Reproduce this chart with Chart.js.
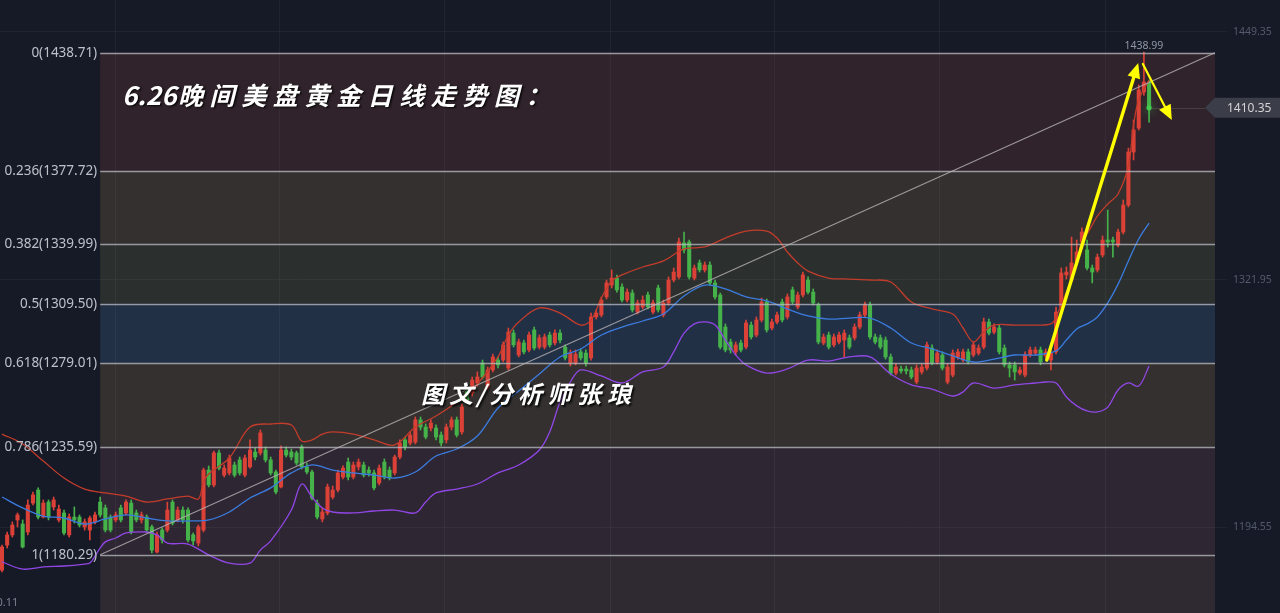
<!DOCTYPE html>
<html>
<head>
<meta charset="utf-8">
<script src="https://cdn.jsdelivr.net/npm/chart.js@4.4.1/dist/chart.umd.min.js"></script>
<style>
  html, body { margin: 0; padding: 0; background: #161a27; overflow: hidden; }
  canvas { display: block; }
</style>
</head>
<body>
<canvas id="chart" width="1280" height="613"></canvas>
<script>
// Daily candles (index 0 = leftmost)
const opens = [
  1172.4, 1185.3, 1190.5, 1198.2, 1196.1, 1192.0, 1206.9, 1213.6, 1199.7, 1207.4,
  1204.9, 1198.2, 1201.8, 1190.5, 1199.7, 1199.7, 1194.6, 1193.0, 1197.2, 1207.4,
  1204.4, 1199.7, 1198.2, 1204.4, 1201.8, 1206.9, 1201.8, 1198.2, 1199.7, 1194.6,
  1181.7, 1193.0, 1193.0, 1207.4, 1198.2, 1203.3, 1203.3, 1190.5, 1186.3, 1193.0,
  1223.9, 1216.2, 1232.7, 1221.3, 1222.4, 1226.5, 1229.1, 1221.3, 1225.5, 1233.2,
  1232.7, 1234.2, 1229.1, 1222.9, 1215.2, 1234.2, 1233.2, 1232.7, 1235.8, 1225.5,
  1222.9, 1206.9, 1198.7, 1201.8, 1210.0, 1213.6, 1220.3, 1228.0, 1220.3, 1225.5,
  1226.5, 1223.9, 1222.4, 1217.2, 1228.0, 1223.9, 1222.4, 1230.6, 1239.4, 1237.8,
  1238.3, 1249.7, 1246.0, 1245.5, 1245.5, 1241.9, 1239.4, 1246.0, 1249.7, 1243.5,
  1265.1, 1263.5, 1268.7, 1279.0, 1266.6, 1275.4, 1280.5, 1280.5, 1276.4, 1294.4,
  1283.1, 1289.3, 1285.7, 1296.0, 1287.2, 1287.2, 1293.4, 1289.3, 1294.4, 1287.2,
  1279.0, 1279.0, 1284.7, 1284.1, 1281.6, 1302.7, 1303.7, 1313.0, 1319.1, 1322.7,
  1318.1, 1311.4, 1315.0, 1305.2, 1307.8, 1314.0, 1305.2, 1317.6, 1303.7, 1309.9,
  1321.7, 1323.3, 1340.8, 1341.3, 1322.7, 1330.5, 1326.9, 1329.4, 1320.2, 1314.0,
  1297.5, 1289.8, 1284.7, 1289.3, 1287.2, 1298.5, 1293.4, 1301.1, 1310.4, 1297.0,
  1300.1, 1310.4, 1302.7, 1316.6, 1307.8, 1314.0, 1321.7, 1315.5, 1308.8, 1289.3,
  1293.4, 1288.3, 1289.8, 1290.8, 1291.9, 1291.9, 1297.5, 1303.7, 1308.8, 1292.4,
  1291.9, 1290.8, 1282.1, 1273.8, 1275.9, 1275.9, 1275.4, 1269.2, 1274.4, 1276.4,
  1286.7, 1279.5, 1283.1, 1269.2, 1272.8, 1282.1, 1280.5, 1284.7, 1283.1, 1284.1,
  1287.2, 1300.1, 1294.9, 1297.0, 1286.7, 1278.0, 1278.0, 1273.8, 1272.8, 1283.1,
  1284.1, 1285.7, 1282.6, 1280.5, 1284.7, 1307.8, 1324.3, 1321.7, 1331.0, 1341.3,
  1337.2, 1327.9, 1326.9, 1334.6, 1342.3, 1342.3, 1339.7, 1346.4, 1360.3, 1387.6,
  1399.9, 1418.5, 1423.6
];
const closes = [
  1184.3, 1190.5, 1195.6, 1200.8, 1184.3, 1205.9, 1211.1, 1199.7, 1206.9, 1199.7,
  1208.5, 1203.8, 1191.5, 1199.7, 1198.2, 1195.6, 1197.2, 1199.2, 1200.8, 1200.8,
  1193.0, 1193.0, 1200.8, 1198.2, 1207.4, 1192.0, 1198.2, 1200.8, 1193.0, 1182.7,
  1190.5, 1187.9, 1203.3, 1196.6, 1203.3, 1198.2, 1187.9, 1187.4, 1194.6, 1223.9,
  1216.2, 1232.7, 1224.9, 1224.9, 1230.1, 1221.3, 1222.4, 1230.1, 1234.2, 1230.6,
  1243.0, 1229.1, 1222.4, 1212.6, 1234.2, 1231.6, 1230.6, 1227.5, 1225.5, 1222.9,
  1209.5, 1199.7, 1202.3, 1215.2, 1213.6, 1222.4, 1224.9, 1220.3, 1226.5, 1228.0,
  1221.3, 1222.4, 1214.7, 1224.9, 1220.3, 1219.8, 1230.6, 1237.8, 1235.8, 1241.9,
  1249.7, 1246.0, 1240.9, 1248.1, 1240.9, 1237.8, 1246.0, 1249.7, 1241.9, 1256.3,
  1259.9, 1270.2, 1271.8, 1271.8, 1275.4, 1282.1, 1278.0, 1288.3, 1294.9, 1288.3,
  1289.8, 1284.7, 1293.4, 1286.7, 1291.9, 1292.4, 1288.3, 1294.4, 1290.8, 1281.6,
  1284.1, 1283.6, 1281.6, 1279.0, 1302.7, 1304.7, 1311.4, 1320.2, 1322.7, 1316.6,
  1311.4, 1315.5, 1306.3, 1309.9, 1311.4, 1307.8, 1309.9, 1306.3, 1309.9, 1321.7,
  1325.8, 1341.3, 1337.2, 1323.3, 1327.9, 1326.9, 1329.4, 1320.2, 1313.0, 1287.2,
  1285.7, 1285.7, 1288.3, 1285.7, 1299.6, 1292.4, 1301.1, 1310.4, 1296.0, 1300.1,
  1303.7, 1301.1, 1313.0, 1310.4, 1314.0, 1324.3, 1315.5, 1309.9, 1289.8, 1292.4,
  1287.2, 1292.4, 1293.4, 1294.4, 1287.2, 1297.5, 1303.7, 1308.8, 1292.4, 1289.8,
  1287.2, 1282.1, 1273.8, 1276.9, 1274.9, 1274.9, 1271.8, 1276.4, 1276.9, 1288.3,
  1279.0, 1284.1, 1276.4, 1276.9, 1284.1, 1284.7, 1284.7, 1279.5, 1288.3, 1286.7,
  1300.1, 1294.4, 1297.5, 1284.7, 1278.0, 1276.4, 1274.4, 1275.4, 1283.1, 1285.7,
  1285.7, 1279.5, 1284.7, 1284.1, 1305.2, 1325.3, 1325.8, 1330.5, 1336.1, 1346.4,
  1327.9, 1325.8, 1333.5, 1342.3, 1341.3, 1341.3, 1346.4, 1360.3, 1387.6, 1398.9,
  1419.5, 1423.6, 1410.35
];
const highs = [
  1185.3, 1192.0, 1197.2, 1201.8, 1198.2, 1208.5, 1212.6, 1214.7, 1208.5, 1208.5,
  1210.0, 1205.9, 1203.3, 1201.3, 1204.9, 1200.8, 1198.7, 1200.2, 1202.3, 1210.0,
  1205.9, 1200.8, 1202.3, 1205.9, 1208.5, 1208.5, 1203.3, 1202.3, 1200.8, 1195.6,
  1192.0, 1194.1, 1207.4, 1208.5, 1204.9, 1204.9, 1204.4, 1191.5, 1195.6, 1224.9,
  1226.0, 1233.7, 1234.2, 1226.5, 1231.6, 1228.0, 1230.6, 1231.6, 1239.4, 1235.2,
  1244.5, 1235.8, 1230.6, 1223.9, 1236.3, 1235.8, 1234.7, 1233.7, 1236.8, 1227.5,
  1223.9, 1208.5, 1204.4, 1216.7, 1215.7, 1223.9, 1226.0, 1230.1, 1228.0, 1229.6,
  1228.0, 1225.5, 1223.9, 1226.5, 1229.6, 1225.5, 1231.6, 1239.4, 1240.9, 1243.5,
  1251.2, 1251.2, 1247.6, 1249.7, 1247.1, 1243.5, 1247.6, 1251.2, 1251.2, 1257.9,
  1266.6, 1271.8, 1274.4, 1280.5, 1276.9, 1283.6, 1282.1, 1289.8, 1297.0, 1296.0,
  1291.3, 1290.8, 1294.9, 1297.5, 1293.4, 1293.9, 1294.9, 1296.0, 1296.0, 1288.3,
  1285.7, 1285.7, 1286.2, 1285.7, 1304.7, 1306.3, 1313.0, 1321.7, 1326.9, 1324.3,
  1319.7, 1317.1, 1316.6, 1311.4, 1313.5, 1315.5, 1311.4, 1319.1, 1311.4, 1323.3,
  1327.9, 1343.3, 1346.4, 1342.3, 1329.4, 1332.0, 1331.0, 1331.0, 1321.7, 1315.0,
  1299.1, 1291.3, 1289.8, 1290.8, 1301.1, 1300.1, 1302.7, 1312.4, 1311.9, 1301.6,
  1305.2, 1311.9, 1314.5, 1318.1, 1315.5, 1325.8, 1323.3, 1317.1, 1309.9, 1293.9,
  1294.9, 1293.9, 1294.9, 1296.0, 1293.4, 1299.1, 1305.2, 1310.4, 1310.4, 1293.9,
  1293.4, 1292.4, 1283.6, 1278.5, 1277.4, 1277.4, 1276.9, 1278.0, 1278.5, 1289.8,
  1288.3, 1285.7, 1284.7, 1278.5, 1285.7, 1286.2, 1286.2, 1286.2, 1289.8, 1288.3,
  1302.1, 1301.6, 1299.1, 1298.5, 1288.3, 1279.5, 1279.5, 1276.9, 1284.7, 1287.2,
  1287.2, 1287.2, 1286.2, 1285.7, 1307.8, 1327.9, 1328.4, 1343.8, 1342.3, 1348.5,
  1342.3, 1329.4, 1335.1, 1344.4, 1357.7, 1343.8, 1347.9, 1362.9, 1389.6, 1404.1,
  1422.1, 1438.99, 1424.6
];
const lows = [
  1171.4, 1183.8, 1189.4, 1194.6, 1183.8, 1190.5, 1205.9, 1198.7, 1199.2, 1198.2,
  1203.3, 1197.2, 1190.5, 1189.4, 1196.6, 1194.6, 1193.0, 1187.9, 1196.1, 1199.7,
  1192.0, 1192.0, 1197.2, 1197.2, 1200.8, 1191.0, 1197.2, 1196.6, 1192.0, 1181.2,
  1181.2, 1186.3, 1192.0, 1195.6, 1197.2, 1196.6, 1186.9, 1185.3, 1184.8, 1192.0,
  1215.2, 1215.2, 1223.9, 1220.3, 1221.3, 1220.3, 1221.3, 1220.3, 1224.9, 1229.1,
  1231.6, 1228.0, 1221.3, 1211.6, 1214.7, 1230.6, 1229.1, 1226.5, 1224.4, 1221.9,
  1208.5, 1198.7, 1197.2, 1200.8, 1209.0, 1212.6, 1219.3, 1218.8, 1219.3, 1223.9,
  1220.3, 1220.8, 1213.6, 1216.2, 1219.3, 1218.8, 1221.3, 1229.6, 1234.2, 1236.8,
  1237.3, 1244.5, 1239.9, 1244.0, 1239.4, 1236.3, 1237.8, 1244.5, 1240.9, 1242.4,
  1258.4, 1262.0, 1267.1, 1270.8, 1265.6, 1274.4, 1276.4, 1279.5, 1275.4, 1287.2,
  1282.1, 1283.6, 1284.7, 1285.7, 1286.2, 1286.2, 1287.2, 1288.3, 1289.3, 1280.5,
  1277.4, 1278.0, 1280.5, 1277.4, 1280.5, 1301.6, 1302.7, 1311.9, 1317.6, 1315.5,
  1310.4, 1310.4, 1305.2, 1304.2, 1306.8, 1306.8, 1304.2, 1305.2, 1302.7, 1308.8,
  1320.7, 1322.2, 1335.6, 1322.2, 1321.7, 1325.8, 1325.8, 1319.1, 1311.9, 1286.2,
  1284.7, 1284.1, 1283.1, 1284.7, 1286.2, 1291.3, 1292.4, 1300.1, 1294.9, 1296.0,
  1299.1, 1300.1, 1301.6, 1309.4, 1306.8, 1313.0, 1314.5, 1308.8, 1288.8, 1288.3,
  1286.2, 1287.2, 1288.8, 1282.1, 1286.2, 1290.8, 1296.5, 1302.7, 1291.3, 1288.8,
  1286.2, 1281.0, 1272.8, 1272.8, 1273.8, 1273.3, 1270.8, 1268.2, 1273.3, 1275.4,
  1278.0, 1278.5, 1275.4, 1268.2, 1271.8, 1281.0, 1279.5, 1278.5, 1282.1, 1283.1,
  1286.2, 1293.4, 1293.9, 1283.6, 1276.9, 1271.8, 1270.2, 1272.8, 1271.8, 1282.1,
  1283.1, 1278.0, 1281.6, 1275.4, 1283.6, 1306.8, 1322.2, 1320.7, 1329.9, 1340.2,
  1326.9, 1320.2, 1325.8, 1333.5, 1338.7, 1333.5, 1338.7, 1345.4, 1359.3, 1383.5,
  1398.9, 1416.9, 1403.0
];

// Bollinger bands, [candle index, price]
const upperBand = [[0,1242.4],[4,1237.3],[8,1228.5],[12,1219.8],[16,1214.1],[20,1212.1],[24,1210.5],[28,1207.4],[32,1209.0],[36,1210.5],[38,1209.0],[39,1217.7],[40,1221.9],[44,1230.1],[48,1246.0],[52,1247.6],[56,1247.1],[58,1238.8],[60,1239.4],[62,1242.4],[64,1243.5],[68,1242.4],[72,1239.4],[76,1236.8],[80,1246.0],[84,1251.7],[88,1258.9],[92,1268.2],[96,1282.1],[98,1293.4],[100,1300.1],[104,1307.3],[108,1304.7],[112,1298.5],[114,1301.1],[116,1312.4],[118,1321.2],[120,1324.3],[124,1328.4],[128,1331.5],[132,1337.7],[136,1338.7],[140,1343.3],[144,1346.9],[148,1346.9],[150,1343.3],[152,1336.1],[154,1330.5],[156,1326.3],[160,1322.7],[164,1322.2],[168,1321.7],[172,1320.7],[176,1310.4],[180,1306.8],[184,1304.2],[186,1297.0],[188,1289.8],[190,1294.9],[192,1298.5],[196,1298.5],[200,1298.5],[203,1299.1],[204,1302.7],[206,1315.5],[208,1330.5],[209,1342.3],[210,1345.4],[212,1354.6],[214,1360.8],[216,1366.0],[218,1380.4],[219,1401.5],[220,1414.4],[222,1424.6]];
const midBand = [[0,1210.0],[4,1204.4],[8,1200.2],[12,1199.2],[16,1196.1],[20,1198.7],[24,1200.8],[28,1199.2],[32,1197.7],[36,1197.7],[40,1198.2],[44,1202.3],[48,1209.5],[52,1214.7],[56,1222.4],[60,1226.5],[64,1223.9],[68,1222.4],[72,1221.3],[76,1219.8],[80,1222.9],[84,1231.1],[88,1234.7],[92,1241.4],[96,1255.8],[100,1264.6],[104,1273.3],[108,1282.1],[112,1286.2],[116,1293.4],[120,1297.5],[124,1300.6],[128,1304.2],[132,1313.5],[136,1319.1],[140,1317.1],[144,1313.0],[148,1310.9],[152,1306.8],[156,1303.2],[160,1301.6],[164,1302.1],[168,1302.1],[172,1297.0],[176,1289.3],[180,1286.2],[184,1282.6],[188,1279.5],[192,1281.0],[196,1283.1],[200,1283.1],[204,1285.2],[206,1290.8],[208,1296.5],[210,1299.1],[212,1302.7],[214,1309.9],[216,1319.6],[218,1331.5],[220,1342.8],[222,1351.0]];
const lowBand = [[0,1176.6],[4,1172.9],[8,1174.0],[12,1174.5],[16,1175.5],[17,1176.0],[18,1179.6],[19,1183.8],[20,1186.9],[22,1188.9],[24,1191.5],[28,1192.0],[30,1190.5],[32,1186.3],[36,1185.8],[40,1180.2],[44,1176.0],[48,1176.0],[50,1182.7],[52,1187.4],[56,1203.3],[58,1216.7],[60,1210.0],[62,1204.4],[64,1202.3],[68,1201.8],[72,1202.8],[76,1203.3],[80,1201.8],[82,1207.4],[84,1212.1],[88,1214.1],[92,1216.7],[96,1222.4],[100,1226.5],[104,1234.2],[106,1243.5],[108,1258.9],[110,1269.2],[112,1275.4],[116,1272.3],[120,1268.7],[124,1274.4],[128,1276.9],[130,1284.7],[132,1294.4],[134,1299.1],[136,1300.1],[138,1298.5],[140,1290.8],[142,1283.1],[144,1278.0],[148,1273.8],[152,1275.9],[156,1280.5],[160,1280.0],[164,1282.1],[168,1282.1],[172,1273.3],[176,1267.7],[180,1265.6],[184,1262.0],[186,1264.1],[188,1268.7],[192,1266.1],[196,1267.7],[200,1268.7],[202,1269.2],[204,1268.7],[206,1261.5],[208,1256.9],[210,1254.3],[212,1253.8],[214,1256.3],[216,1265.1],[218,1268.7],[220,1267.1],[222,1277.4]];

// Fibonacci retracement
const fibLevels = [0, 0.236, 0.382, 0.5, 0.618, 0.786, 1];
const fibHigh = 1438.71;
const fibLow = 1180.29;
const fibStartIdx = 19;

// axes
const axisTicks = [1194.55, 1321.95, 1449.35];
const xGridIdx = [21.9, 53.8, 85.7, 117.7, 149.6, 181.5, 213.5];
const yMin = 1150.31, yMax = 1465.82;
const xMin = -0.387, xMax = 234.76;

// annotation arrows, [index, price]
const arrowUp = [[202.2, 1280.5], [219.9, 1433.4]];
const arrowDown = [[220.8, 1432.9], [226.4, 1404.0]];

const titleText = '晚间美盘黄金日线走势图：';
const titleDate = '6.26';
const authorText = '图文/分析师张琅';

const UP = '#dc4137', DOWN = '#45b24a';
const zoneColors = ['#30232b', '#33302f', '#2b302e', '#223045', '#33302f', '#2e2632', '#2f2a31'];

const candleColors = closes.map((c, i) => c >= opens[i] ? UP : DOWN);
const idx = closes.map((_, i) => i);

function drawArrow(ctx, x1, y1, x2, y2, lw) {
    const ang = Math.atan2(y2 - y1, x2 - x1);
    const head = 15, w = 6.5;
    const bx = x2 - head * Math.cos(ang), by = y2 - head * Math.sin(ang);
    ctx.lineWidth = lw;
    ctx.beginPath();
    ctx.moveTo(x1, y1);
    ctx.lineTo(bx, by);
    ctx.stroke();
    ctx.beginPath();
    ctx.moveTo(x2, y2);
    ctx.lineTo(bx + w * Math.sin(ang), by - w * Math.cos(ang));
    ctx.lineTo(bx - w * Math.sin(ang), by + w * Math.cos(ang));
    ctx.closePath();
    ctx.fill();
}

const fibPlugin = {
    id: 'fib',
    beforeDraw(chart) {
        const { ctx, chartArea: a, scales: { x, y } } = chart;
        ctx.save();
        ctx.fillStyle = '#161a27';
        ctx.fillRect(0, 0, chart.width, chart.height);
        const left = x.getPixelForValue(fibStartIdx);
        const prices = fibLevels.map(l => fibHigh - l * (fibHigh - fibLow));
        zoneColors.forEach((col, k) => {
            const top = y.getPixelForValue(prices[k]);
            const bottom = k + 1 < prices.length ? y.getPixelForValue(prices[k + 1]) : a.bottom;
            ctx.fillStyle = col;
            ctx.fillRect(left, top, a.right - left, bottom - top);
        });
        ctx.restore();
    },
    afterDatasetsDraw(chart) {
        const { ctx, chartArea: a, scales: { x, y } } = chart;
        const left = x.getPixelForValue(fibStartIdx);
        ctx.save();
        ctx.strokeStyle = 'rgba(190,190,196,0.75)';
        ctx.lineWidth = 1.3;
        ctx.font = '13.5px "Noto Sans"';
        ctx.fillStyle = '#bcc0c9';
        ctx.textAlign = 'right';
        ctx.textBaseline = 'middle';
        fibLevels.forEach(l => {
            const p = fibHigh - l * (fibHigh - fibLow);
            const py = Math.round(y.getPixelForValue(p)) + 0.5;
            ctx.beginPath();
            ctx.moveTo(left, py);
            ctx.lineTo(a.right, py);
            ctx.stroke();
            ctx.fillText(`${l}(${p.toFixed(2)})`, left - 3, py);
        });
        // trend line of the retracement
        ctx.strokeStyle = 'rgba(185,180,182,0.8)';
        ctx.lineWidth = 1.1;
        ctx.beginPath();
        ctx.moveTo(left, y.getPixelForValue(fibLow));
        ctx.lineTo(a.right, y.getPixelForValue(fibHigh));
        ctx.stroke();
        ctx.restore();
    },
    afterDraw(chart) {
        const { ctx, chartArea: a, scales: { x, y } } = chart;
        const last = closes.length - 1;
        ctx.save();

        // last price line, tag and dot
        const lx = x.getPixelForValue(last);
        const ly = y.getPixelForValue(closes[last]);
        ctx.strokeStyle = 'rgba(255,255,255,0.12)';
        ctx.lineWidth = 1;
        ctx.beginPath();
        ctx.moveTo(lx + 3, Math.round(ly) + 0.5);
        ctx.lineTo(a.right - 10, Math.round(ly) + 0.5);
        ctx.stroke();
        ctx.fillStyle = '#3b3e49';
        ctx.beginPath();
        ctx.moveTo(a.right - 10, ly);
        ctx.lineTo(a.right, ly - 10);
        ctx.lineTo(chart.width, ly - 10);
        ctx.lineTo(chart.width, ly + 10);
        ctx.lineTo(a.right, ly + 10);
        ctx.closePath();
        ctx.fill();
        ctx.fillStyle = '#d4d4d6';
        ctx.font = '12px "Noto Sans"';
        ctx.textAlign = 'left';
        ctx.textBaseline = 'middle';
        ctx.fillText(closes[last].toFixed(2), a.right + 12, ly + 0.5);

        ctx.save();
        ctx.shadowColor = 'rgba(70,220,90,0.9)';
        ctx.shadowBlur = 10;
        ctx.fillStyle = '#43c94d';
        ctx.beginPath();
        ctx.arc(lx, ly, 2.6, 0, Math.PI * 2);
        ctx.fill();
        ctx.restore();

        // highest high label
        const hi = Math.max(...highs);
        const hiIdx = highs.indexOf(hi);
        ctx.fillStyle = '#9097a3';
        ctx.font = '10.5px "Noto Sans"';
        ctx.textAlign = 'center';
        ctx.textBaseline = 'alphabetic';
        ctx.fillText(hi.toFixed(2), x.getPixelForValue(hiIdx), y.getPixelForValue(hi) - 3.5);

        // cut-off date label at bottom left
        ctx.fillStyle = '#7c8190';
        ctx.font = '11px "Noto Sans"';
        ctx.textAlign = 'left';
        ctx.fillText('0.11', -3.5, 606);

        // yellow arrows
        ctx.strokeStyle = '#ffff00';
        ctx.fillStyle = '#ffff00';
        ctx.lineCap = 'round';
        drawArrow(ctx, x.getPixelForValue(arrowUp[0][0]), y.getPixelForValue(arrowUp[0][1]),
            x.getPixelForValue(arrowUp[1][0]), y.getPixelForValue(arrowUp[1][1]), 3.4);
        drawArrow(ctx, x.getPixelForValue(arrowDown[0][0]), y.getPixelForValue(arrowDown[0][1]),
            x.getPixelForValue(arrowDown[1][0]), y.getPixelForValue(arrowDown[1][1]), 2.2);

        // captions
        ctx.shadowColor = 'rgba(0,0,0,0.85)';
        ctx.shadowBlur = 2;
        ctx.shadowOffsetX = 1.5;
        ctx.shadowOffsetY = 1.5;
        ctx.fillStyle = '#ffffff';
        ctx.textBaseline = 'middle';
        ctx.textAlign = 'left';
        ctx.font = 'italic bold 26px "Noto Sans CJK SC"';
        ctx.fillText(titleDate, 122, 95);
        ctx.font = 'italic bold 25px "Noto Sans CJK SC"';
        [...titleText].forEach((ch, k) => ctx.fillText(ch, 178 + k * 31.6, 95));
        ctx.font = 'italic bold 24px "Noto Sans CJK SC"';
        const authorX = [421, 449, 476, 489, 518, 547, 577, 607];
        [...authorText].forEach((ch, k) => ctx.fillText(ch, authorX[k], 394));
        ctx.restore();
    }
};

new Chart(document.getElementById('chart'), {
    type: 'bar',
    data: {
        datasets: [
            {
                type: 'line', data: upperBand.map(([i, v]) => ({ x: i, y: v })),
                borderColor: '#c33c2b', borderWidth: 1.3, pointRadius: 0, tension: 0.35
            },
            {
                type: 'line', data: midBand.map(([i, v]) => ({ x: i, y: v })),
                borderColor: '#3b7ce0', borderWidth: 1.3, pointRadius: 0, tension: 0.35
            },
            {
                type: 'line', data: lowBand.map(([i, v]) => ({ x: i, y: v })),
                borderColor: '#9147e6', borderWidth: 1.3, pointRadius: 0, tension: 0.35
            },
            {
                data: idx.map(i => ({ x: i, y: [opens[i], closes[i]] })),
                backgroundColor: candleColors, barThickness: 3.4, minBarLength: 1,
                grouped: false, borderWidth: 0, borderSkipped: false
            },
            {
                data: idx.map(i => ({ x: i, y: [lows[i], highs[i]] })),
                backgroundColor: candleColors, barThickness: 1,
                grouped: false, borderWidth: 0, borderSkipped: false
            }
        ]
    },
    options: {
        responsive: false,
        animation: false,
        events: [],
        layout: { padding: 0 },
        plugins: { legend: { display: false }, tooltip: { enabled: false } },
        scales: {
            x: {
                type: 'linear', min: xMin, max: xMax, offset: false,
                afterBuildTicks: s => { s.ticks = xGridIdx.map(v => ({ value: v })); },
                afterFit: s => { s.height = 0; s.paddingLeft = 0; s.paddingRight = 0; },
                ticks: { display: false },
                grid: { color: 'rgba(255,255,255,0.045)', drawTicks: false, offset: false },
                border: { display: false }
            },
            y: {
                position: 'right', min: yMin, max: yMax,
                afterBuildTicks: s => { s.ticks = axisTicks.map(v => ({ value: v })); },
                afterFit: s => { s.width = 65; s.paddingTop = 0; s.paddingBottom = 0; },
                ticks: {
                    color: '#545a6b', padding: 6,
                    font: { size: 10.5, family: 'Noto Sans' },
                    callback: v => v.toFixed(2)
                },
                grid: { color: 'rgba(255,255,255,0.045)', tickLength: 12 },
                border: { display: false }
            }
        }
    },
    plugins: [fibPlugin]
});
</script>
</body>
</html>
